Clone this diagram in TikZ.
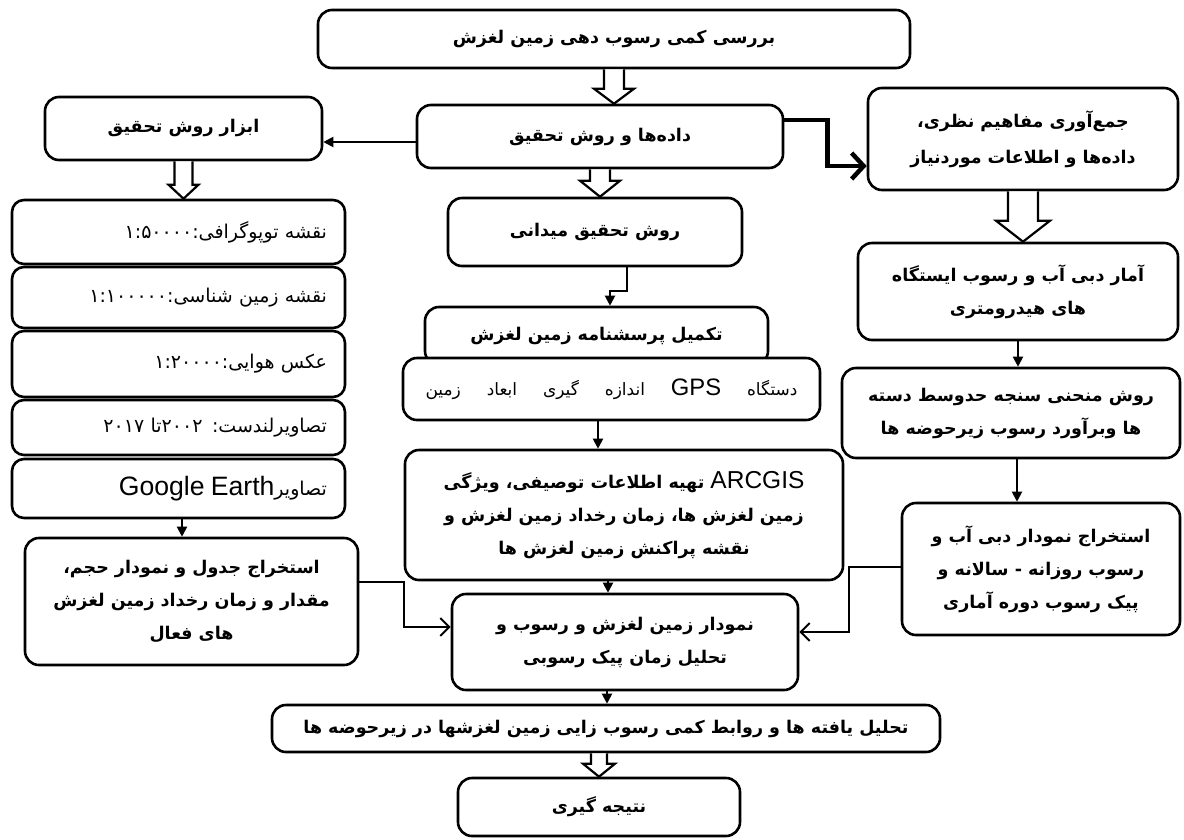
\documentclass[tikz,border=0pt]{standalone}
\usepackage{fontspec}
\usetikzlibrary{arrows.meta,calc}
\TeXXeTstate=1
\newfontfamily\fa[Script=Arabic]{DejaVu Sans}
\newfontfamily\latin[Scale=1.4]{Liberation Sans}
\newcommand\rl[1]{\beginR #1\endR}
\newcommand\lr[1]{\beginL #1\endL}
\newcommand\en[1]{\beginL{\latin\mdseries #1}\endL}
\tikzset{
  stage/.style={draw, line width=2.6pt, rounded corners=14pt, fill=white,
    align=center, font=\fa\bfseries\fontsize{17.5}{33}\selectfont},
  source/.style={stage, rounded corners=12pt, inner xsep=18pt,
    font=\fa\fontsize{19}{28}\selectfont, text width=297pt, align=right},
  arr/.style={line width=2pt, -{Triangle[length=10pt,width=10pt]}},
  barb/.style={line width=2pt, -{Straight Barb[length=9pt,width=18pt]}},
  boldarr/.style={line width=4.5pt, -{Straight Barb[length=12pt,width=26pt]}},
  hollow/.style n args={3}{draw, fill=white, line width=2.2pt,
    to path={let \p1=(\tikztostart), \p2=(\tikztotarget) in
      (\x1-#1,\y1) -- (\x1-#1,\y2+#3) -- (\x1-#2,\y2+#3) -- (\x1,\y2)
      -- (\x1+#2,\y2+#3) -- (\x1+#1,\y2+#3) -- (\x1+#1,\y1)}},
}
\begin{document}
\begin{tikzpicture}[x=1pt, y=-1pt]
\useasboundingbox (0,0) rectangle (1184,839);

% middle column
\node[stage, minimum width=592pt, minimum height=58pt] (top) at (614,39)
  {\rl{بررسی کمی رسوب دهی زمین لغزش}};
\node[stage, minimum width=366pt, minimum height=63pt] (data) at (600,136.5)
  {\rl{داده^^^^200cها  و روش تحقیق}};
\node[stage, minimum width=294pt, minimum height=68pt] (field) at (595,232)
  {\rl{روش تحقیق میدانی}};
\node[stage, minimum width=343pt, minimum height=58pt] (survey) at (596.5,336)
  {\rl{تکمیل پرسشنامه زمین لغزش}};
\node[stage, minimum width=417pt, minimum height=62pt, font=\fa\fontsize{17}{30}\selectfont] (gps) at (611.5,389)
  {\hbox to 372pt{\beginR دستگاه\hfil\en{GPS}\hfil اندازه\hfil گیری\hfil ابعاد\hfil زمین\endR}};
\node[stage, minimum width=438pt, minimum height=130pt] (gis) at (624,515)
  {\rl{\en{ARCGIS} تهیه اطلاعات توصیفی، ویژگی}\\
   \rl{زمین لغزش ها، زمان رخداد زمین لغزش و}\\
   \rl{نقشه پراکنش زمین لغزش ها}};
\node[stage, minimum width=346pt, minimum height=96pt] (chart) at (625,642)
  {\rl{نمودار زمین لغزش و رسوب و}\\\rl{تحلیل زمان پیک رسوبی}};
\node[stage, minimum width=668pt, minimum height=47pt] (analysis) at (606,728.5)
  {\rl{تحلیل یافته ها و روابط کمی رسوب زایی زمین لغزشها در زیرحوضه ها}};
\node[stage, minimum width=282pt, minimum height=58pt] (result) at (599,807)
  {\rl{نتیجه گیری}};

% left column
\node[stage, minimum width=277pt, minimum height=63pt] (tools) at (183.5,128.5)
  {\rl{ابزار روش تحقیق}};
\node[source, minimum height=64pt] (topo) at (178.5,232)
  {\rl{نقشه توپوگرافی:\lr{۱:۵۰۰۰۰}}};
\node[source, minimum height=61pt] (geo) at (178.5,297.5)
  {\rl{نقشه زمین شناسی:\lr{۱:۱۰۰۰۰۰}}};
\node[source, minimum height=66pt] (aerial) at (178.5,364)
  {\rl{عکس هوایی:\lr{۱:۲۰۰۰۰}}};
\node[source, minimum height=55pt] (landsat) at (178.5,427.5)
  {\rl{تصاویرلندست: \lr{۲۰۰۲}تا \lr{۲۰۱۷}}};
\node[source, minimum height=59pt] (google) at (178.5,488.5)
  {\rl{تصاویر\en{Google Earth}}};
\node[stage, minimum width=333pt, minimum height=127pt] (table) at (191.5,601.5)
  {\rl{استخراج جدول و نمودار حجم،}\\\rl{مقدار و زمان رخداد زمین لغزش}\\\rl{های فعال}};

% right column
\node[stage, minimum width=310pt, minimum height=102pt, font=\fa\bfseries\fontsize{17.5}{36}\selectfont] (gather) at (1023,139)
  {\rl{جمع^^^^200cآوری مفاهیم نظری،}\\\rl{داده^^^^200cها  و اطلاعات موردنیاز}};
\node[stage, minimum width=320pt, minimum height=97pt] (stats) at (1018,291.5)
  {\rl{آمار دبی آب و رسوب ایستگاه}\\\rl{های هیدرومتری}};
\node[stage, minimum width=338pt, minimum height=90pt] (rating) at (1011,413)
  {\rl{روش منحنی سنجه حدوسط دسته}\\\rl{ها وبرآورد رسوب زیرحوضه ها}};
\node[stage, minimum width=278pt, minimum height=132pt] (flow) at (1041,569)
  {\rl{استخراج نمودار دبی آب و}\\\rl{رسوب روزانه - سالانه و}\\\rl{پیک رسوب دوره آماری}};

% hollow arrows
\draw[hollow={10pt}{20pt}{15pt}] (top.south) to (top.south |- data.north);
\draw[hollow={10pt}{20pt}{16pt}] (data.south) to (data.south |- field.north);
\draw[hollow={15pt}{27pt}{21pt}] (gather.south) to (gather.south |- stats.north);
\draw[hollow={9pt}{15pt}{14pt}] (tools.south) to (tools.south |- topo.north);
\draw[hollow={8pt}{16pt}{13pt}] (result.north |- analysis.south) to (result.north);

% connectors
\draw[arr] ([yshift=-5.5pt]data.west) -- ([yshift=-5.5pt]data.west -| tools.east);
\draw[boldarr] ([yshift=16.5pt]data.east) -- ++(43,0) |- ([yshift=-27pt]gather.west);
\draw[arr] ([xshift=32pt]field.south) -- ++(0,24) -| ([xshift=13.5pt]survey.north);
\draw[arr] ([xshift=-13.5pt]gps.south) -- ([xshift=-13.5pt]gps.south |- gis.north);
\draw[arr] ([xshift=-16pt]gis.south) -- ([xshift=-16pt]gis.south |- chart.north);
\draw[arr] ([xshift=-18pt]chart.south) -- ([xshift=-18pt]chart.south |- analysis.north);
\draw[arr] ([xshift=3.5pt]google.south) -- ([xshift=3.5pt]google.south |- table.north);
\draw[arr] (stats.south) -- (stats.south |- rating.north);
\draw[arr] ([xshift=6pt]rating.south) -- ([xshift=6pt]rating.south |- flow.north);
\draw[barb] ([yshift=19.5pt]table.east) -- ++(45,0) |- ([yshift=15pt]chart.west);
\draw[barb] ([yshift=2pt]flow.west) -- ++(-52,0) |- ([yshift=10pt]chart.east);
\end{tikzpicture}
\end{document}
